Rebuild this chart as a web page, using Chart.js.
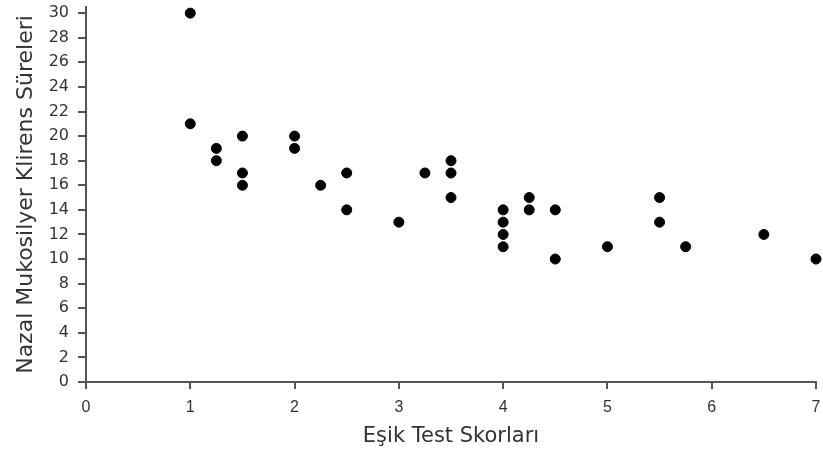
<!DOCTYPE html>
<html><head><meta charset="utf-8">
<script src="https://cdn.jsdelivr.net/npm/chart.js@4"></script>
<style>html,body{margin:0;padding:0;background:#fff}#wrap{width:823px;height:452px}</style>
</head><body><div id="wrap"><canvas id="c"></canvas></div>
<script>
const xScores = [1,1,1.25,1.25,1.5,1.5,1.5,2,2,2.25,2.5,2.5,3,3.25,3.5,3.5,3.5,4,4,4,4,4.25,4.25,4.5,4.5,5,5.5,5.5,5.75,6.5,7];
const yTimes  = [30,21,19,18,20,17,16,20,19,16,17,14,13,17,18,17,15,14,13,12,11,15,14,14,10,11,15,13,11,12,10];
const yTickValues = [0,2,4,6,8,10,12,14,16,18,20,22,24,26,28,30];
const xTickValues = [0,1,2,3,4,5,6,7];
const xTitle = 'Eşik Test Skorları';
const yTitle = 'Nazal Mukosilyer Klirens Süreleri';
const points = xScores.map((x,i)=>({x:x,y:yTimes[i]}));
const axisColor = '#555';
new Chart(document.getElementById('c'), {
  type:'scatter',
  data:{datasets:[{data:points, backgroundColor:'#000', borderColor:'#000', pointRadius:5, pointHoverRadius:5, clip:false}]},
  options:{
    responsive:true, maintainAspectRatio:false, animation:false,
    plugins:{legend:{display:false}, tooltip:{enabled:false}},
    layout:{autoPadding:false, padding:{left:0,right:7,top:7,bottom:0}},
    scales:{
      x:{type:'linear', min:0, max:7,
        afterBuildTicks:(a)=>{a.ticks=xTickValues.map(v=>({value:v}));},
        ticks:{color:'#333', font:{family:'Liberation Sans', size:16}, padding:9, maxRotation:0},
        grid:{drawOnChartArea:false, drawTicks:true, tickLength:7, color:axisColor, lineWidth:2},
        border:{color:axisColor, width:2},
        title:{display:true, text:xTitle, color:'#333', font:{family:'DejaVu Sans', size:21}, padding:{top:0,bottom:3}},
        afterFit:(s)=>{s.height=70; s.paddingLeft=0; s.paddingRight=0;}
      },
      y:{type:'linear', min:0, max:30.5,
        afterBuildTicks:(a)=>{a.ticks=yTickValues.map(v=>({value:v}));},
        ticks:{color:'#333', font:{family:'DejaVu Sans', size:16, lineHeight:1}, padding:9},
        grid:{drawOnChartArea:false, drawTicks:true, tickLength:8, color:axisColor, lineWidth:2},
        border:{color:axisColor, width:2},
        title:{display:true, text:yTitle, color:'#333', font:{family:'DejaVu Sans', size:22}, padding:{top:13,bottom:0}},
        afterFit:(s)=>{s.width=86; s.paddingTop=0; s.paddingBottom=0;}
      }
    }
  }
});
</script></body></html>
